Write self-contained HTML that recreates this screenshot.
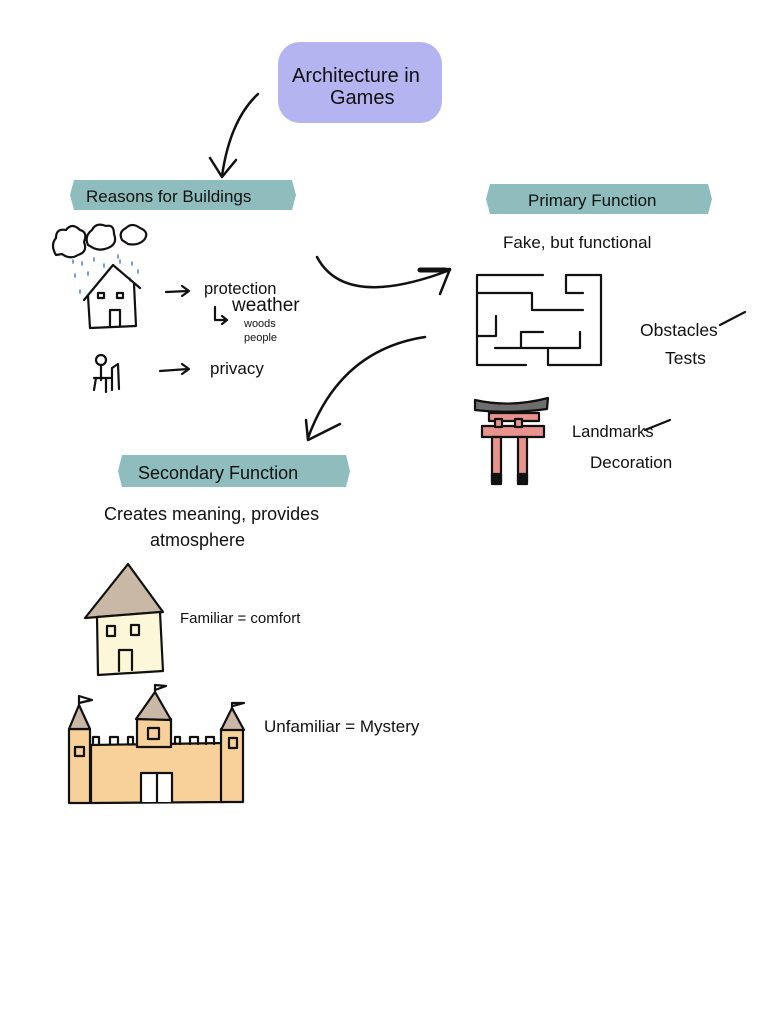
<!DOCTYPE html>
<html><head><meta charset="utf-8"><style>
html,body{margin:0;padding:0;background:#fff;}
svg{display:block}
text{font-family:"Liberation Sans",sans-serif;fill:#111;}
</style></head><body>
<svg width="780" height="1024" viewBox="0 0 780 1024" xmlns="http://www.w3.org/2000/svg">
<g stroke="#111" stroke-width="2.2" fill="none" stroke-linecap="round" stroke-linejoin="round">
<rect x="278" y="42" width="164" height="81" rx="22" fill="#b4b4f0" stroke="none"/>
<path d="M74 180 L292 180 L296 195 L292 210 L74 210 L70 195 Z" fill="#8fbcbc" stroke="none"/>
<path d="M490 184 L708 184 L712 199 L708 214 L490 214 L486 199 Z" fill="#8fbcbc" stroke="none"/>
<path d="M122 455 L346 455 L350 471 L346 487 L122 487 L118 471 Z" fill="#8fbcbc" stroke="none"/>
<path d="M258 94 Q230 120 222 176" stroke-width="2.5"/>
<path d="M210 158 L222 177 L236 160" stroke-width="2.5"/>
<path d="M317 257 Q345 310 450 270" stroke-width="2.5"/>
<path d="M420 270 L450 269 L440 294" stroke-width="2.5"/>
<path d="M420 270 L445 270" stroke-width="5"/>
<path d="M425 337 Q340 350 308 438" stroke-width="2.5"/>
<path d="M306 420 L308 440 L340 424" stroke-width="2.5"/>
<path d="M56 255 Q50 245 56 238 Q56 228 66 230 Q72 222 80 230 Q88 232 84 242 Q88 252 78 255 Q70 260 62 254 Z"/>
<path d="M88 245 Q84 236 92 230 Q96 222 106 226 Q114 224 114 234 Q118 244 108 248 Q98 252 90 246 Z"/>
<path d="M122 240 Q118 232 126 228 Q132 222 140 228 Q150 232 144 240 Q138 246 128 244 Z"/>
<g stroke="#4a7ec8" stroke-width="1.5">
<path d="M73 260 l0 3 M82 262 l0 3 M94 258 l0 3 M104 264 l0 3 M120 260 l0 3 M132 262 l0 3 M138 270 l0 3 M75 274 l0 3 M88 272 l0 3 M130 278 l0 3 M80 290 l0 3 M118 255 l0 3"/>
</g>
<path d="M84 300 L113 265 L140 288 M88 296 L90 328 L136 326 L134 284"/>
<rect x="98" y="293" width="6" height="5"/><rect x="117" y="293" width="6" height="5"/>
<path d="M110 326 L110 310 L120 310 L120 326"/>
<path d="M166 292 L188 291 M182 286 L189 291 L182 296"/>
<path d="M160 371 L188 369 M182 364 L189 369 L182 374"/>
<path d="M215 307 L215 320 L226 320 M222 316 L227 320 L222 324"/>
<circle cx="101" cy="360" r="5"/>
<path d="M101 365 L101 380 M94 378 L112 378 M96 378 L94 390 M106 378 L106 392 M112 368 L112 390 M112 368 L118 364 L119 389"/>
<path d="M477 275 L543 275 M566 275 L601 275 L601 365 L548 365 M477 275 L477 365 L526 365 M477 293 L532 293 L532 310 L583 310 M566 275 L566 293 L583 293 M496 316 L496 336 L477 336 M495 348 L580 348 L580 332 M521 348 L521 332 L543 332 M548 365 L548 348"/>
<path d="M475 400 Q510 408 548 398 L547 409 Q510 414 475 410 Z" fill="#6e6e6e"/>
<rect x="489" y="413" width="50" height="8" fill="#e8938e"/>
<rect x="482" y="426" width="62" height="11" fill="#e8938e"/>
<rect x="495" y="419" width="7" height="8" fill="#e8938e"/>
<rect x="515" y="419" width="7" height="8" fill="#e8938e"/>
<rect x="492" y="437" width="9" height="45" fill="#e8938e"/>
<rect x="518" y="437" width="9" height="45" fill="#e8938e"/>
<rect x="492" y="474" width="9" height="10" fill="#111"/>
<rect x="518" y="474" width="9" height="10" fill="#111"/>
<path d="M645 430 L670 420 M720 325 L745 312"/>
<path d="M85 618 L128 564 L163 612 Z" fill="#c9b8a6"/>
<path d="M97 617 L98 675 L163 671 L160 612 Z" fill="#fbf7d8"/>
<rect x="107" y="626" width="8" height="10"/><rect x="131" y="625" width="8" height="10"/>
<path d="M119 671 L119 650 L132 650 L132 670"/>
<path d="M91 745 L225 743 L225 802 L91 803 Z" fill="#f7d09a"/>
<rect x="69" y="729" width="21" height="74" fill="#f7d09a"/>
<rect x="221" y="729" width="22" height="73" fill="#f7d09a"/>
<rect x="137" y="719" width="34" height="28" fill="#f7d09a"/>
<path d="M69 729 L79 705 L90 729 Z" fill="#c9b8a6"/>
<path d="M221 730 L232 708 L244 730 Z" fill="#c9b8a6"/>
<path d="M136 719 L155 692 L171 720 Z" fill="#c9b8a6"/>
<path d="M79 705 L79 696 L92 700 L79 703 M232 708 L232 703 L244 703 L233 706 M155 692 L155 685 L166 686 L155 690"/>
<rect x="75" y="747" width="9" height="9"/><rect x="229" y="738" width="8" height="10"/><rect x="148" y="728" width="11" height="11"/>
<path d="M93 744 l0-7 6 0 0 7 M110 744 l0-7 8 0 0 7 M128 744 l0-7 5 0 0 7 M175 744 l0-7 5 0 0 7 M190 744 l0-7 8 0 0 7 M206 744 l0-7 8 0 0 7"/>
<path d="M141 802 L141 773 L172 773 L172 802 M157 773 L157 802" fill="#fff"/>
</g>
<text x="292" y="82" font-size="20">Architecture   in</text>
<text x="330" y="104" font-size="20">Games</text>
<text x="86" y="202" font-size="17">Reasons  for  Buildings</text>
<text x="528" y="206" font-size="17">Primary  Function</text>
<text x="138" y="479" font-size="18">Secondary  Function</text>
<text x="204" y="294" font-size="16.5">protection</text>
<text x="232" y="311" font-size="19">weather</text>
<text x="244" y="327" font-size="11">woods</text>
<text x="244" y="341" font-size="11">people</text>
<text x="210" y="374" font-size="17">privacy</text>
<text x="503" y="248" font-size="17">Fake, but functional</text>
<text x="640" y="336" font-size="17.5">Obstacles</text>
<text x="665" y="364" font-size="17.5">Tests</text>
<text x="572" y="437" font-size="16.5">Landmarks</text>
<text x="590" y="468" font-size="17">Decoration</text>
<text x="104" y="520" font-size="18">Creates  meaning, provides</text>
<text x="150" y="546" font-size="18">atmosphere</text>
<text x="180" y="623" font-size="15">Familiar = comfort</text>
<text x="264" y="732" font-size="17">Unfamiliar = Mystery</text>
</svg>
</body></html>
